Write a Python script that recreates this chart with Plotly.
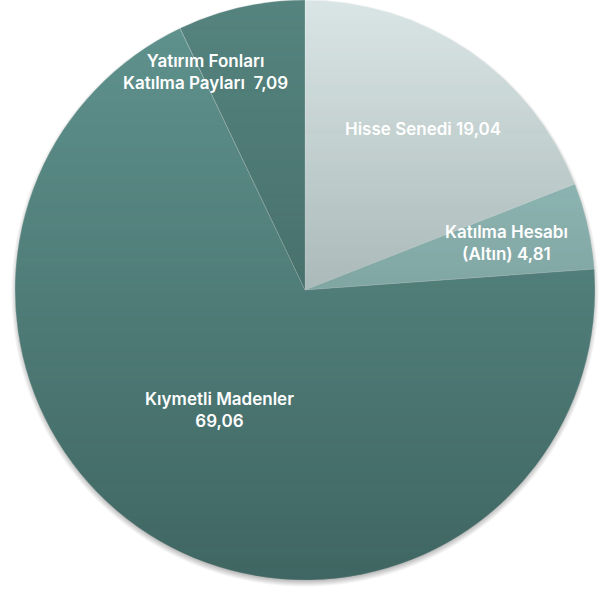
import base64, struct, zlib
import numpy as np
import plotly.graph_objects as go

labels = ["Hisse Senedi", "Katılma Hesabı (Altın)", "Kıymetli Madenler", "Yatırım Fonları Katılma Payları"]
values = [19.04, 4.81, 69.06, 7.09]
display_labels = ["Hisse Senedi ", "Katılma Hesabı<br>(Altın) ", "Kıymetli Madenler<br>", "Yatırım Fonları<br>Katılma Payları  "]
colors = ["#dae6e5", "#a1cbc8", "#61948f", "#56847f"]

W, H = 616, 592
dom_x = [(305 - 292) / W, (305 + 292) / W]
dom_y = [12 / H, 1.0]

label_pos = [(0.687, 0.782), (0.823, 0.590), (0.357, 0.307), (0.333, 0.878)]

# --- vertical shading overlay (decorative), aligned with the pie domain ---
dw, dh = (dom_x[1] - dom_x[0]) * W, (dom_y[1] - dom_y[0]) * H
R = min(dw, dh) / 2
cx = (dom_x[0] + dom_x[1]) / 2 * W
cy = H - (dom_y[0] + dom_y[1]) / 2 * H
yy, xx = np.mgrid[0:H, 0:W].astype(float) + 0.5
d = np.hypot(xx - cx, yy - cy)
cov = np.clip(R - d + 0.5, 0, 1)
t = np.clip((yy - (cy - R)) / (2 * R), 0, 1)
a_in = 0.5 * t * cov
ds = np.hypot(xx - cx, yy - (cy + 3))
s = 0.28 * np.clip(1 - (ds - (R - 3)) / 7, 0, 1) * (1 - cov)
tot = a_in + s
C = np.array([30, 56, 54], float)
col = np.where(tot[..., None] > 0, (a_in[..., None] * C) / np.maximum(tot, 1e-9)[..., None], 0)
img = np.dstack([col, np.clip(tot, 0, 1) * 255]).round().astype(np.uint8)

def png(arr):
    h, w, _ = arr.shape
    raw = b"".join(b"\x00" + arr[i].tobytes() for i in range(h))
    def chunk(tag, data):
        return struct.pack(">I", len(data)) + tag + data + struct.pack(">I", zlib.crc32(tag + data) & 0xffffffff)
    return (b"\x89PNG\r\n\x1a\n" + chunk(b"IHDR", struct.pack(">IIBBBBB", w, h, 8, 6, 0, 0, 0))
            + chunk(b"IDAT", zlib.compress(raw, 9)) + chunk(b"IEND", b""))

uri = "data:image/png;base64," + base64.b64encode(png(img)).decode()

fig = go.Figure()
fig.add_trace(go.Pie(
    labels=labels, values=values, sort=False, direction="clockwise", rotation=0,
    marker=dict(colors=colors, line=dict(width=0.6, color="rgba(255,255,255,0.35)")),
    textinfo="none", hoverinfo="label+value", showlegend=False,
    domain=dict(x=dom_x, y=dom_y),
))

fig.add_layout_image(source=uri, xref="paper", yref="paper", x=0, y=1, sizex=1, sizey=1,
                     xanchor="left", yanchor="top", sizing="stretch", layer="above")

for lab, val, (px, py) in zip(display_labels, values, label_pos):
    txt = lab + f"{val:.2f}".replace(".", ",")
    fig.add_annotation(x=px, y=py, xref="paper", yref="paper", text=txt, showarrow=False,
                       font=dict(family="Inter", size=17, color="white", weight=600),
                       align="center", xanchor="center", yanchor="middle")

fig.update_layout(width=W, height=H, margin=dict(l=0, r=0, t=0, b=0),
                  paper_bgcolor="white", plot_bgcolor="white")
fig.write_html("out.html", config={"displayModeBar": False},
               post_script="document.body.style.margin='0';")
